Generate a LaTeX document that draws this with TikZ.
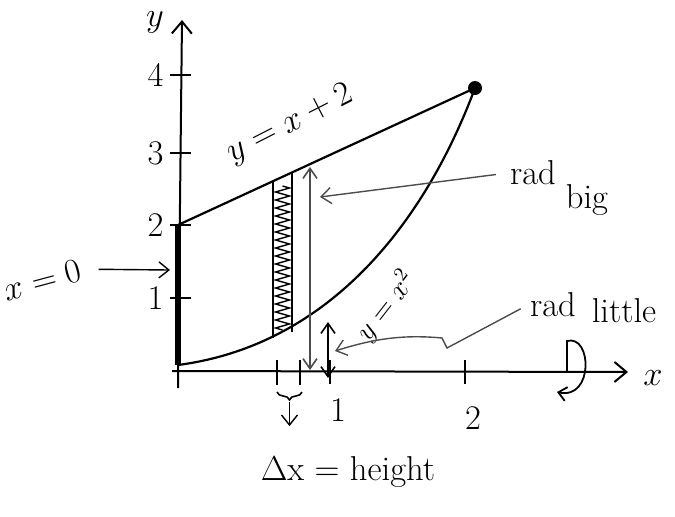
\documentclass[tikz,border=0pt]{standalone}
\usetikzlibrary{arrows.meta,decorations.pathmorphing,decorations.pathreplacing}

\tikzset{
  axisline/.style={line width=1pt,-{Straight Barb[length=6pt,width=10pt]}},
  curveline/.style={line width=1.1pt,line cap=round},
  pointer/.style={line width=.7pt,gray!60!black,-{Straight Barb[length=5pt,width=8pt]}},
  twoway/.style={line width=.8pt,{Straight Barb[length=5pt,width=7pt]}-{Straight Barb[length=5pt,width=7pt]}},
  handtext/.style={font=\LARGE,inner sep=1pt},
}

\begin{document}
\begin{tikzpicture}[x=0.5pt,y=-0.5pt]
  \useasboundingbox (0,0) rectangle (675,516);

  % axes
  \path[draw,axisline] (178,388) -- (182,20);
  \path[draw,axisline] (172,371) -- (628,372);
  \node[handtext] (ylab) at (155,22) {$y$};
  \node[handtext] (xlab) at (653,378) {$x$};
  \foreach \yy/\lab in {298/1,225/2,153/3,75/4}{
    \draw[line width=.8pt] (170,\yy) -- (191,\yy);
    \node[handtext,left] at (166,\yy) {\lab};
  }
  \foreach \xx/\lab/\ly in {330/1/410,465/2/418}{
    \draw[line width=.8pt] (\xx,360) -- (\xx,384);
    \node[handtext] at (\xx+8,\ly) {\lab};
  }

  % region between y=x+2 and y=x^2
  \coordinate (A) at (178,225);
  \coordinate (B) at (178,365);
  \coordinate (P) at (475,88);
  \path[draw,curveline] (A) -- (P);
  \path[draw,curveline] (B) .. controls (330,345) and (425,222) .. (P);
  \fill (P) circle (3.5pt);
  \draw[line width=2.6pt] (A) -- (B);

  % strip
  \draw[line width=.9pt] (273,181) -- (273,338);
  \draw[line width=.9pt] (292,173) -- (292,332);
  \draw[line width=.7pt,decorate,decoration={zigzag,amplitude=3.5pt,segment length=4pt}] (282.5,186) -- (282.5,330);

  % labels of the curves
  \node[handtext,rotate=27] (linelab) at (290,124) {$y=x+2$};
  \node[handtext,rotate=52,font=\Large] (parlab) at (386,306) {$y=x^2$};
  \node[handtext,rotate=15] (xzero) at (42,280) {$x=0$};
  \coordinate (xzerotip) at (170,270);
  \draw[pointer,black,shorten <=8pt] (xzero.east) -- (xzerotip);

  % big radius
  \draw[twoway,gray!60!black] (310,370) -- (310,167);
  \node[handtext] (radbig) at (533,173) {rad};
  \node[handtext] (big) at (587,200) {big};
  \coordinate (radbigtip) at (320,197);
  \draw[pointer,shorten <=6pt] (radbig.west) -- (radbigtip);

  % little radius
  \draw[twoway] (328,322) -- (328,378);
  \node[handtext] (radlit) at (553,305) {rad};
  \node[handtext] (little) at (624,311) {little};
  \coordinate (radlittip) at (335,351);
  \draw[pointer,shorten <=4pt] (radlit.west) -- (447,348) -- (442,338)
    .. controls (400,334) and (370,340) .. (radlittip);

  % revolution about the x-axis
  \draw[line width=.9pt,-{Straight Barb[length=4pt,width=7pt]}] (567,372) -- (567,341)
    .. controls (592,334) and (594,400) .. (557,392);

  % width of the strip
  \draw[line width=.8pt] (277,360) -- (277,385);
  \draw[line width=.8pt] (300,360) -- (300,385);
  \draw[line width=.8pt,decorate,decoration={brace,mirror,amplitude=4pt}] (277,392) -- (302,392) coordinate[midway,yshift=-5pt] (dxbrace);
  \node[handtext] (dxlab) at (348,472) {$\Delta$x = height};
  \draw[pointer,black,shorten >=14pt] (dxbrace) -- (dxbrace |- dxlab.north);
\end{tikzpicture}
\end{document}
